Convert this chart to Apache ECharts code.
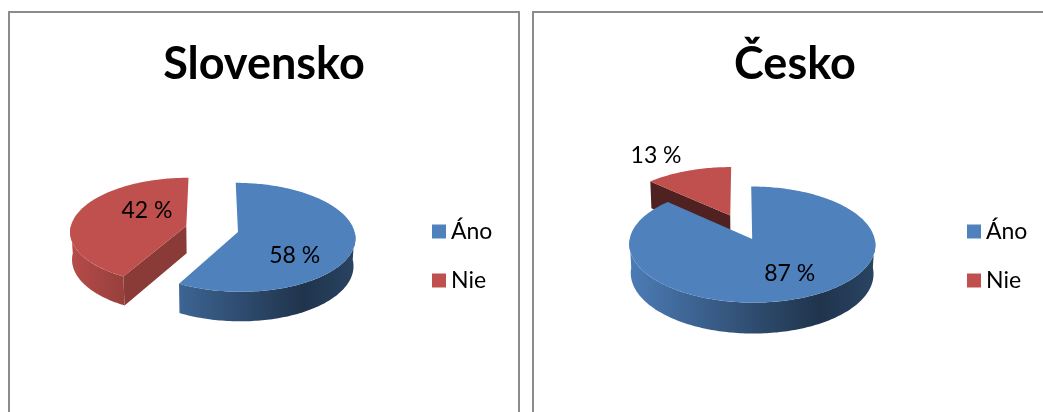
<!DOCTYPE html>
<html>
<head>
<meta charset="utf-8">
<script src="https://cdn.jsdelivr.net/npm/echarts@6/dist/echarts.min.js"></script>
<style>
  html, body { margin: 0; padding: 0; background: #fff; overflow: hidden; width: 1043px; height: 412px; }
  .panel { position: absolute; top: 11px; height: 420px; border: 2px solid #8c8c8c; box-sizing: border-box; background: #fff; }
  #sk { left: 8px; width: 512px; }
  #cz { left: 532px; width: 526px; }
</style>
</head>
<body>
<div id="sk" class="panel"></div>
<div id="cz" class="panel"></div>
<script>
const categories = ['Áno', 'Nie'];
const slovenskoValues = [58, 42];
const ceskoValues = [87, 13];
const chartTitles = ['Slovensko', 'Česko'];
const sliceColors = ['#4f81bd', '#c0504d'];

// where each pie sits inside its panel; labels = [radius, degrees off the slice middle]
const skLook = { cx: 202, cy: 216, r: 116, labels: [[0.62, 28], [0.47, 26]], legendLeft: 417 };
const czLook = { cx: 207, cy: 214, r: 120, labels: [[0.64, -3], [1.46, -6]], legendLeft: 428 };
const tilt = 27.4 * Math.PI / 180, dist = 9.3, depth = 0.27, explode = 0.23;

function shade(hex, k) {
  const n = parseInt(hex.slice(1), 16);
  const ch = [n >> 16, (n >> 8) & 255, n & 255].map(c => Math.max(0, Math.min(255, Math.round(c * k))));
  return 'rgb(' + ch.join(',') + ')';
}

function drawPie(dom, title, values, look) {
  const chart = echarts.init(dom);
  const total = values.reduce((a, b) => a + b, 0);
  const sf = Math.sin(tilt), cf = Math.cos(tilt);
  // x right, y up, z towards viewer, unit = pie radius
  const proj = (x, y, z) => {
    const v = y * cf - z * sf, d = z * cf + y * sf, f = dist / (dist - d);
    return [look.cx + look.r * x * f, look.cy - look.r * v * f];
  };

  let acc = 0;
  const slices = values.map((v, i) => {
    const a0 = acc / total * 2 * Math.PI;
    acc += v;
    const a1 = acc / total * 2 * Math.PI;
    const mid = (a0 + a1) / 2;
    return { i, v, a0, a1, mid, ox: explode * Math.sin(mid), oz: -explode * Math.cos(mid) };
  });
  // far slices get painted first
  const order = slices.slice().sort((p, q) => p.oz - q.oz).map(s => s.i);

  const series = slices.map(s => ({
    type: 'custom',
    name: categories[s.i],
    coordinateSystem: 'none',
    z: 2 + order.indexOf(s.i),
    itemStyle: { color: sliceColors[s.i] },
    data: [[s.v]],
    renderItem: function (params, api) {
      const base = sliceColors[s.i];
      const P = (th, rho, y) => proj(s.ox + rho * Math.sin(th), y, s.oz - rho * Math.cos(th));
      const arc = (from, to, y) => {
        const n = Math.max(2, Math.ceil(Math.abs(to - from) / 0.02));
        const pts = [];
        for (let k = 0; k <= n; k++) pts.push(P(from + (to - from) * k / n, 1, y));
        return pts;
      };
      const kids = [];

      const radial = (a, normalAng) => {
        let psi = (normalAng * 180 / Math.PI) % 360;
        if (psi < 0) psi += 360;
        const k = Math.max(0.3, Math.min(0.9, 0.72 - (psi - 118.8) * 0.00297));
        kids.push({
          type: 'polygon',
          shape: { points: [P(a, 0, 0), P(a, 1, 0), P(a, 1, -depth), P(a, 0, -depth)] },
          style: { fill: shade(base, k) }
        });
      };
      if (Math.sin(s.a0) < -1e-6) radial(s.a0, s.a0 - Math.PI / 2);
      if (Math.sin(s.a1) > 1e-6) radial(s.a1, s.a1 + Math.PI / 2);

      const lo = Math.max(s.a0, Math.PI / 2), hi = Math.min(s.a1, 3 * Math.PI / 2);
      if (hi > lo) {
        const c = P(0, 0, 0);
        kids.push({
          type: 'polygon',
          shape: { points: arc(lo, hi, 0).concat(arc(hi, lo, -depth)) },
          style: {
            fill: new echarts.graphic.LinearGradient(c[0] - look.r, 0, c[0] + look.r, 0, [
              { offset: 0, color: shade(base, 0.95) },
              { offset: 0.5, color: shade(base, 0.6) },
              { offset: 0.78, color: shade(base, 0.4) },
              { offset: 1, color: shade(base, 0.52) }
            ], true)
          }
        });
      }

      kids.push({
        type: 'polygon',
        shape: { points: [P(0, 0, 0)].concat(arc(s.a0, s.a1, 0)) },
        style: { fill: base }
      });

      const lab = look.labels[s.i];
      const lp = P(s.mid + lab[1] * Math.PI / 180, lab[0], 0);
      kids.push({
        type: 'text',
        x: lp[0],
        y: lp[1],
        style: {
          text: Math.round(s.v / total * 100) + ' %',
          font: '23px Lato',
          fill: '#000',
          align: 'center',
          verticalAlign: 'middle'
        }
      });
      return { type: 'group', children: kids };
    }
  }));

  chart.setOption({
    animation: false,
    title: {
      text: title,
      left: 'center',
      top: 24,
      textStyle: { fontFamily: 'Lato', fontWeight: 'bold', fontSize: 45, color: '#000' }
    },
    legend: {
      orient: 'vertical',
      left: look.legendLeft,
      top: 202,
      icon: 'rect',
      itemWidth: 14,
      itemHeight: 14,
      itemGap: 26,
      selectedMode: false,
      textStyle: { fontFamily: 'Lato', fontSize: 23, color: '#000' },
      data: categories
    },
    series: series
  });
  return chart;
}

drawPie(document.getElementById('sk'), chartTitles[0], slovenskoValues, skLook);
drawPie(document.getElementById('cz'), chartTitles[1], ceskoValues, czLook);
</script>
</body>
</html>
